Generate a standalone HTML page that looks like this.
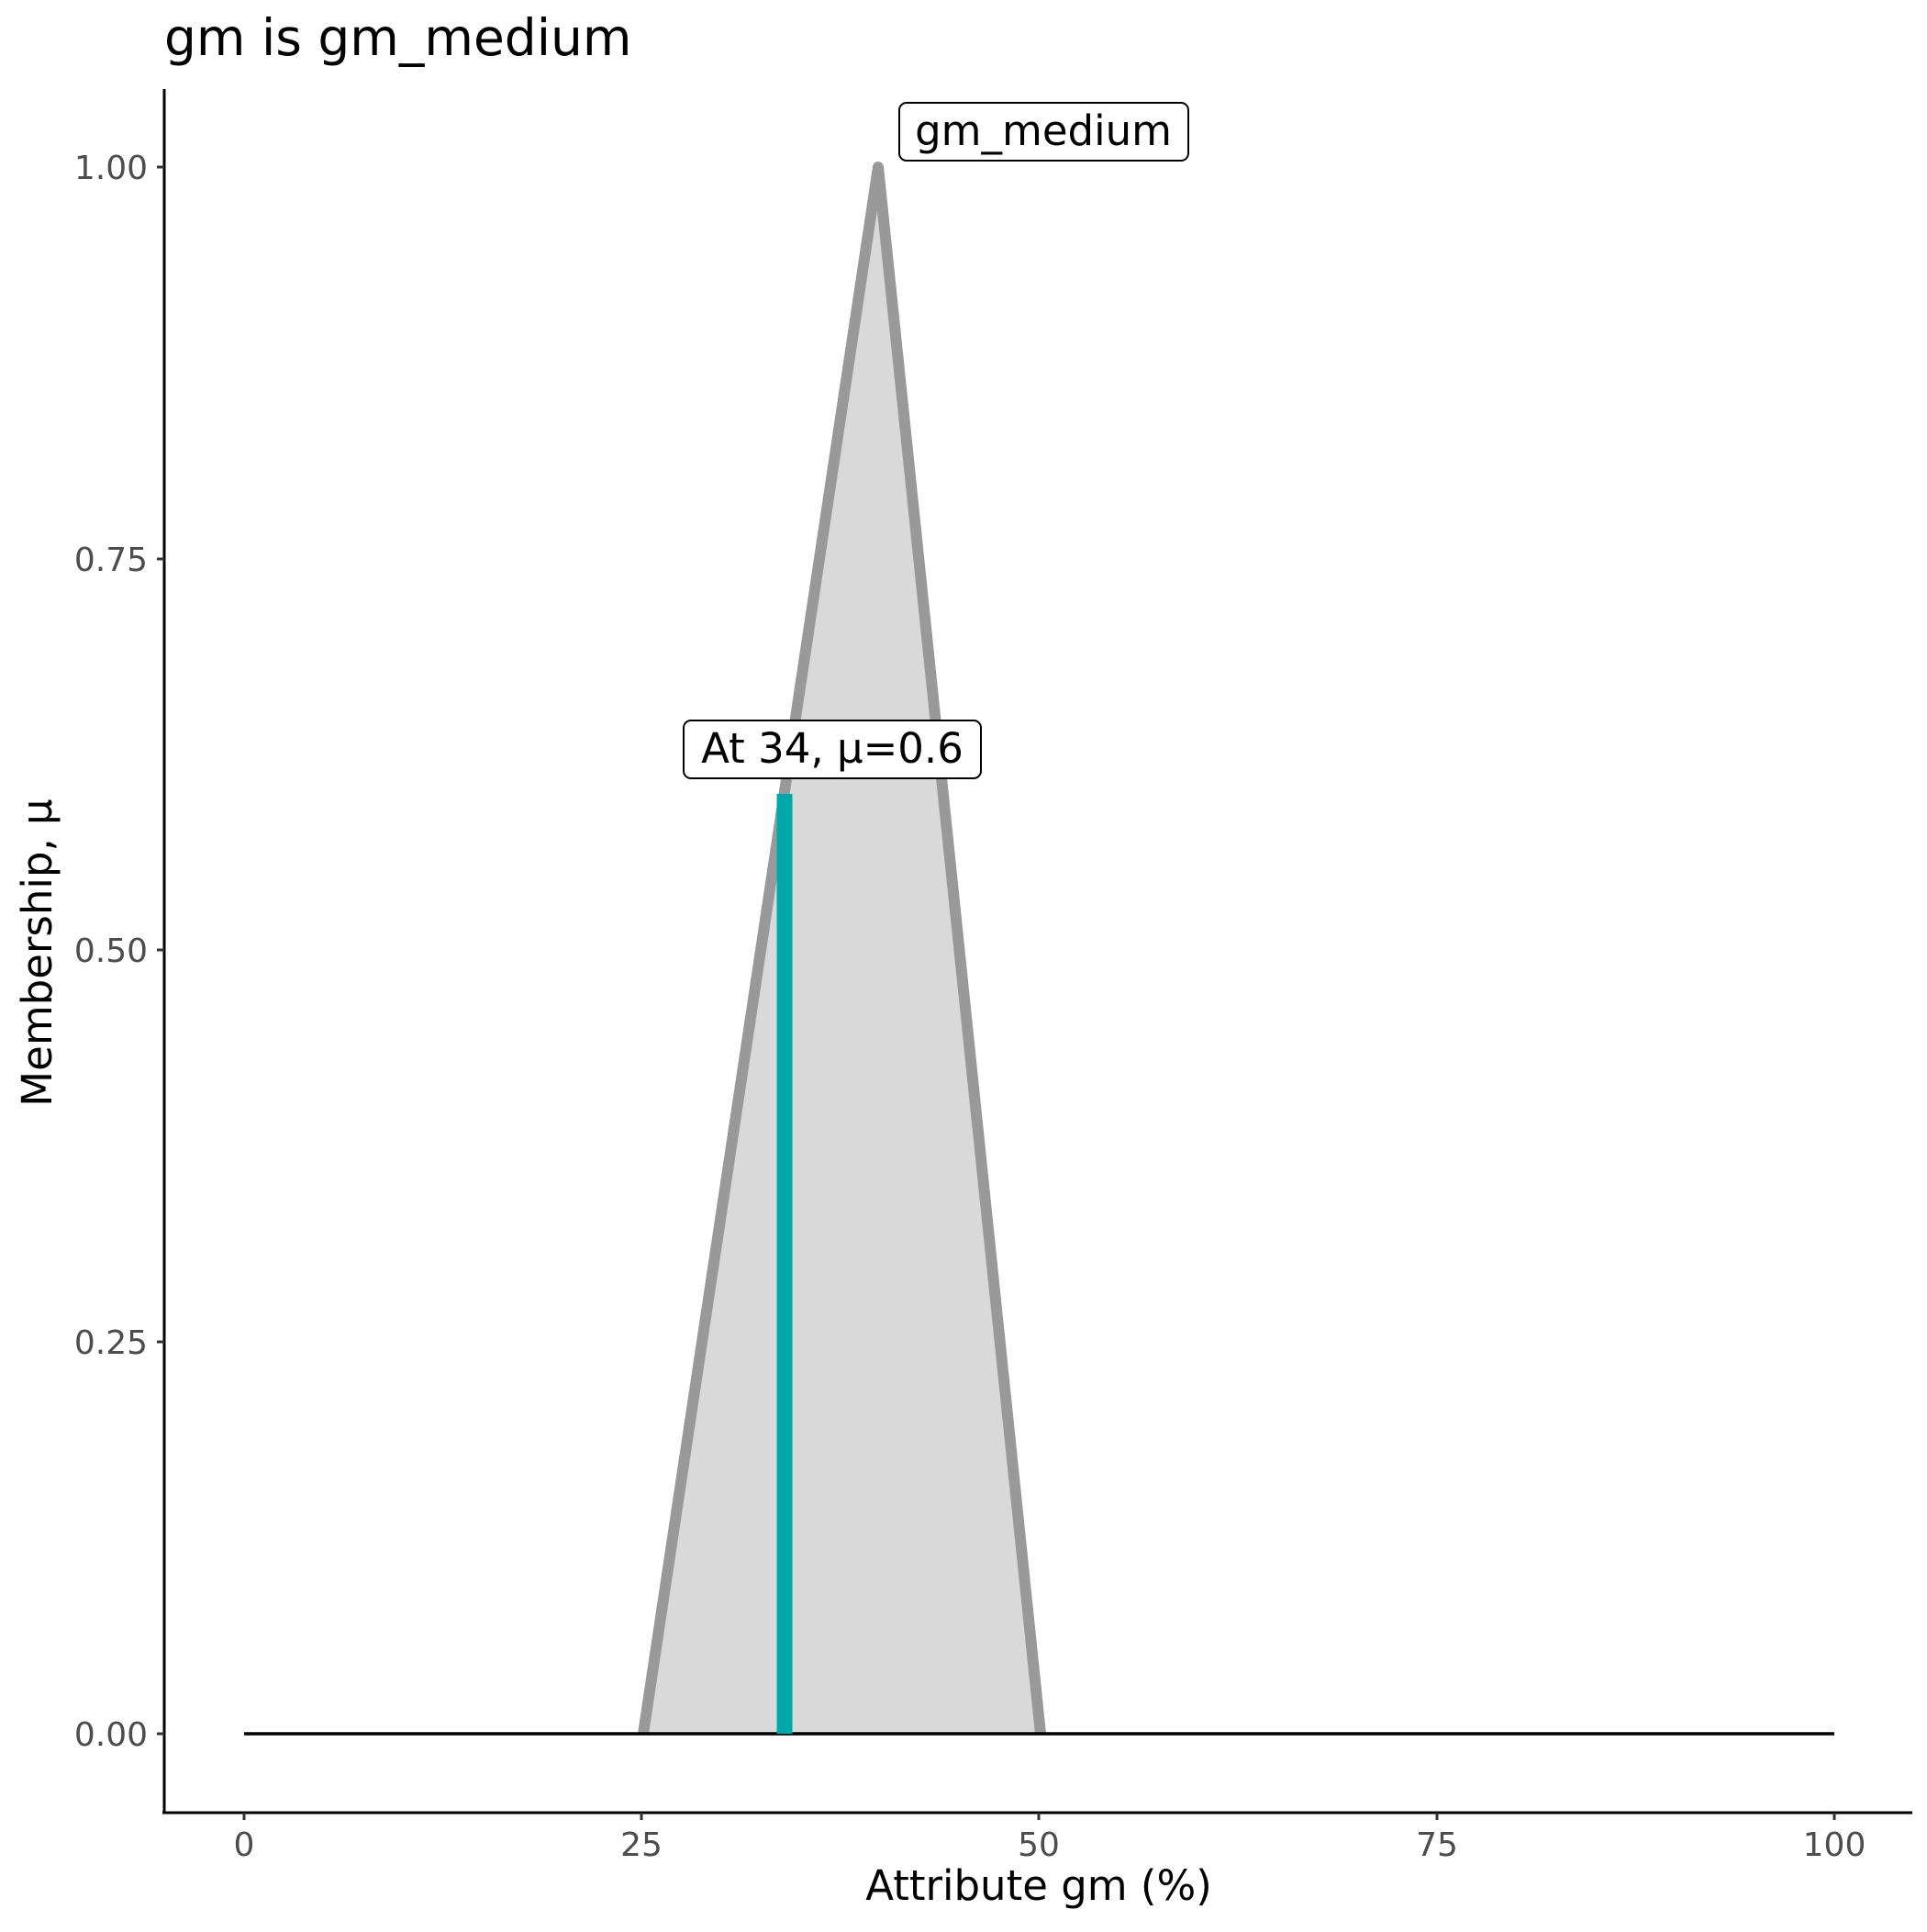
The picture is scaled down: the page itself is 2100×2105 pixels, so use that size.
<!DOCTYPE html>
<html><head><style>body{margin:0;background:#fff}</style></head><body>
<svg width="2100" height="2100" xmlns="http://www.w3.org/2000/svg" font-family="'DejaVu Sans', 'Liberation Sans', sans-serif">
<rect width="2100" height="2100" fill="#fff"/>
<text x="179" y="60" font-size="55" fill="#000">gm is gm_medium</text>
<polygon points="697,1889 957,182 1130,1889" fill="#d9d9d9"/>
<polyline points="701,1889 957,182 1134,1889" fill="none" stroke="#999" stroke-width="12" stroke-linejoin="round"/>
<line x1="266" y1="1889" x2="1999" y2="1889" stroke="#000" stroke-width="3.5"/>
<line x1="855" y1="1889" x2="855" y2="865" stroke="#00a9a9" stroke-width="17"/>
<rect x="745" y="785" width="324" height="63" rx="8" fill="#fff" stroke="#000" stroke-width="2"/>
<text x="907" y="831" font-size="45" text-anchor="middle" fill="#000">At 34, μ=0.6</text>
<rect x="980" y="112" width="315" height="63" rx="8" fill="#fff" stroke="#000" stroke-width="2"/>
<text x="1137" y="158" font-size="45" text-anchor="middle" fill="#000">gm_medium</text>
<line x1="179" y1="97" x2="179" y2="1976" stroke="#000" stroke-width="3"/>
<line x1="177" y1="1975" x2="2084" y2="1975" stroke="#000" stroke-width="3"/>
<g stroke="#333" stroke-width="3">
<line x1="171" y1="182" x2="179" y2="182"/><line x1="171" y1="609" x2="179" y2="609"/><line x1="171" y1="1035" x2="179" y2="1035"/><line x1="171" y1="1462" x2="179" y2="1462"/><line x1="171" y1="1889" x2="179" y2="1889"/>
<line x1="266" y1="1975" x2="266" y2="1983"/><line x1="699" y1="1975" x2="699" y2="1983"/><line x1="1132" y1="1975" x2="1132" y2="1983"/><line x1="1566" y1="1975" x2="1566" y2="1983"/><line x1="1999" y1="1975" x2="1999" y2="1983"/>
</g>
<g font-size="36" fill="#4d4d4d" text-anchor="end">
<text x="161" y="195">1.00</text><text x="161" y="622">0.75</text><text x="161" y="1048">0.50</text><text x="161" y="1475">0.25</text><text x="161" y="1902">0.00</text>
</g>
<g font-size="36" fill="#4d4d4d" text-anchor="middle">
<text x="266" y="2022">0</text><text x="699" y="2022">25</text><text x="1132" y="2022">50</text><text x="1566" y="2022">75</text><text x="1999" y="2022">100</text>
</g>
<text x="1132" y="2070" font-size="45" text-anchor="middle" fill="#000">Attribute gm (%)</text>
<text transform="translate(56,1038) rotate(-90)" font-size="45" text-anchor="middle" fill="#000">Membership, μ</text>
</svg>
</body></html>
